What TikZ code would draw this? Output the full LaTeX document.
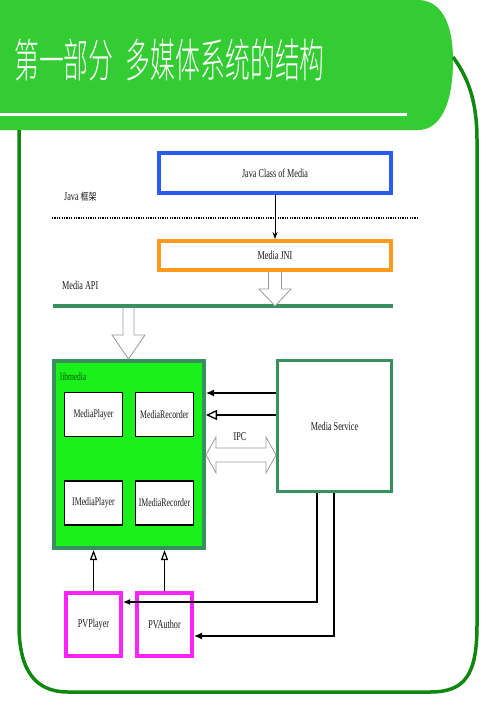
\documentclass[tikz,border=0pt]{standalone}
\usepackage{fontspec}
\setmainfont{Liberation Serif}
\newfontfamily\cjk{Noto Sans CJK SC}
\newfontfamily\cjklight{Noto Sans CJK SC Light}
\newfontfamily\nserif[FakeStretch=0.68]{Liberation Serif}
\usetikzlibrary{arrows.meta}
\definecolor{hdrgreen}{HTML}{33CC33}
\definecolor{framegreen}{HTML}{0F880F}
\definecolor{seagrn}{HTML}{3A8F5F}
\definecolor{libfill}{HTML}{1AF01A}
\definecolor{boxblue}{HTML}{2A5CF0}
\definecolor{boxorange}{HTML}{FF9A1A}
\definecolor{boxmag}{HTML}{FF22FF}
\definecolor{blockgray}{HTML}{9A9A9A}
\tikzset{
  lbl/.style={font=\nserif\fontsize{12}{12}\selectfont, text=black!90, inner sep=0pt},
  topbox/.style={draw, line width=4pt, fill=white, inner sep=0pt},
  subbox/.style={draw=black, line width=1.5pt, fill=white, minimum width=58pt, minimum height=44pt, inner sep=0pt, font=\nserif\fontsize{11.5}{11.5}\selectfont, text=black!90},
  pvbox/.style={draw=boxmag, line width=4pt, fill=white, minimum width=55pt, minimum height=63pt, inner sep=0pt, font=\nserif\fontsize{12}{12}\selectfont, text=black!90},
  blockarrow/.style={draw=blockgray, line width=0.8pt, fill=white, line join=miter},
  conn/.style={draw=black, line width=1.3pt},
  uparrow/.style={draw=black, line width=1.2pt, -{Triangle[open,length=10pt,width=7pt,line width=1.2pt]}},
}
\begin{document}
\begin{tikzpicture}[x=1pt,y=-1pt]
\useasboundingbox (0,0) rectangle (499,706);
\fill[white] (0,0) rectangle (499,706);
% header
\fill[hdrgreen] (0,0) -- (420,0) .. controls (445,2) and (453,30) .. (453,60)
  .. controls (453,105) and (440,130) .. (418,130) -- (0,130) -- cycle;
\draw[white, line width=3pt] (0,115) -- (407,115);
\node[anchor=west, text=white, inner sep=0pt] (title) at (14,60)
  {\scalebox{0.54}[1]{\cjklight\fontsize{46}{46}\selectfont 第一部分\hspace{0.5em}多媒体系统的结构}};
% frame
\draw[framegreen, line width=3.5pt]
  (453,57) .. controls (470,80) and (477,105) .. (477,140)
  -- (477,625) .. controls (477,675) and (465,692) .. (430,692)
  -- (68,692) .. controls (35,692) and (19,670) .. (19,625)
  -- (19,130);
% top boxes
\node[topbox, draw=boxblue, minimum width=232pt, minimum height=40pt, lbl] (jc) at (275,173) {Java Class of Media};
\node[topbox, draw=boxorange, minimum width=232pt, minimum height=29pt, lbl] (jni) at (275,255.5) {Media JNI};
\node[lbl, anchor=west] (javafw) at (64,197) {Java {\cjk\fontsize{10}{10}\selectfont\scalebox{0.8}[1]{框架}}};
\node[lbl, anchor=west] (apilbl) at (62,285) {Media API};
\coordinate (dotL) at (52,218);
\coordinate (dotR) at (417,218);
\draw[black, line width=1.4pt, dash pattern=on 1.2pt off 1.2pt] (dotL) -- (dotR);
\coordinate (apiL) at (53,306);
\coordinate (apiR) at (393,306);
\draw[seagrn, line width=4pt] (apiL) -- (apiR);
\draw[-{Stealth[length=7pt,width=5pt]}, black, line width=0.8pt] (jc.south) -- (jni.north);
% block arrow JNI -> API
\draw[blockarrow] (268.5,272) -- (268.5,289) -- (259,289) -- (275,306) -- (291,289) -- (281.5,289) -- (281.5,272);
% libmedia
\node[draw=seagrn, line width=4pt, fill=libfill, minimum width=150pt, minimum height=187pt, inner sep=0pt] (lib) at (129,454.5) {};
\node[anchor=west, inner sep=0pt, font=\nserif\fontsize{11}{11}\selectfont, text=green!35!black] (libl) at (60,377) {libmedia};
% block arrow API -> libmedia
\draw[blockarrow] (123,308) -- (123,335) -- (112,335) -- (128.5,359) -- (145,335) -- (134,335) -- (134,308);
\node[subbox] (mp) at (93.5,414.5) {MediaPlayer};
\node[subbox] (mr) at (164.5,414.5) {MediaRecorder};
\node[subbox] (imp) at (93.5,503) {IMediaPlayer};
\node[subbox] (imr) at (164.5,503) {IMediaRecorder};
% media service
\node[draw=seagrn, line width=3pt, fill=white, minimum width=114pt, minimum height=131pt, inner sep=0pt, lbl] (ms) at (334.5,426) {Media Service};
\coordinate (r1) at (0,393);
\coordinate (r2) at (0,415);
\draw[conn, -{Latex[length=8pt,width=7pt]}] (ms.west |- r1) -- (lib.east |- r1);
\draw[conn, -{Triangle[open,length=11pt,width=10pt,line width=1.3pt]}] (ms.west |- r2) -- (lib.east |- r2);
% IPC
\draw[blockarrow] (206,455) -- (216,437) -- (216,448) -- (266,448) -- (266,437) -- (276,455)
  -- (266,473) -- (266,462) -- (216,462) -- (216,473) -- cycle;
\node[lbl] (ipc) at (240,437) {IPC};
% PV boxes
\node[pvbox] (pvp) at (93.5,624.5) {PVPlayer};
\node[pvbox] (pva) at (164.5,624.5) {PVAuthor};
\draw[uparrow] (pvp.north) -- (pvp.north |- lib.south);
\draw[uparrow] (pva.north) -- (pva.north |- lib.south);
% service -> PV
\coordinate (c1) at (317,602);
\coordinate (c2) at (334,636);
\draw[conn, line width=1.1pt, -{Latex[length=7pt,width=6pt]}] (ms.south -| c1) -- (c1) -- (pvp.east |- c1);
\draw[conn, line width=1.3pt, -{Latex[length=8pt,width=7pt]}] (ms.south -| c2) -- (c2) -- (pva.east |- c2);
\end{tikzpicture}
\end{document}
